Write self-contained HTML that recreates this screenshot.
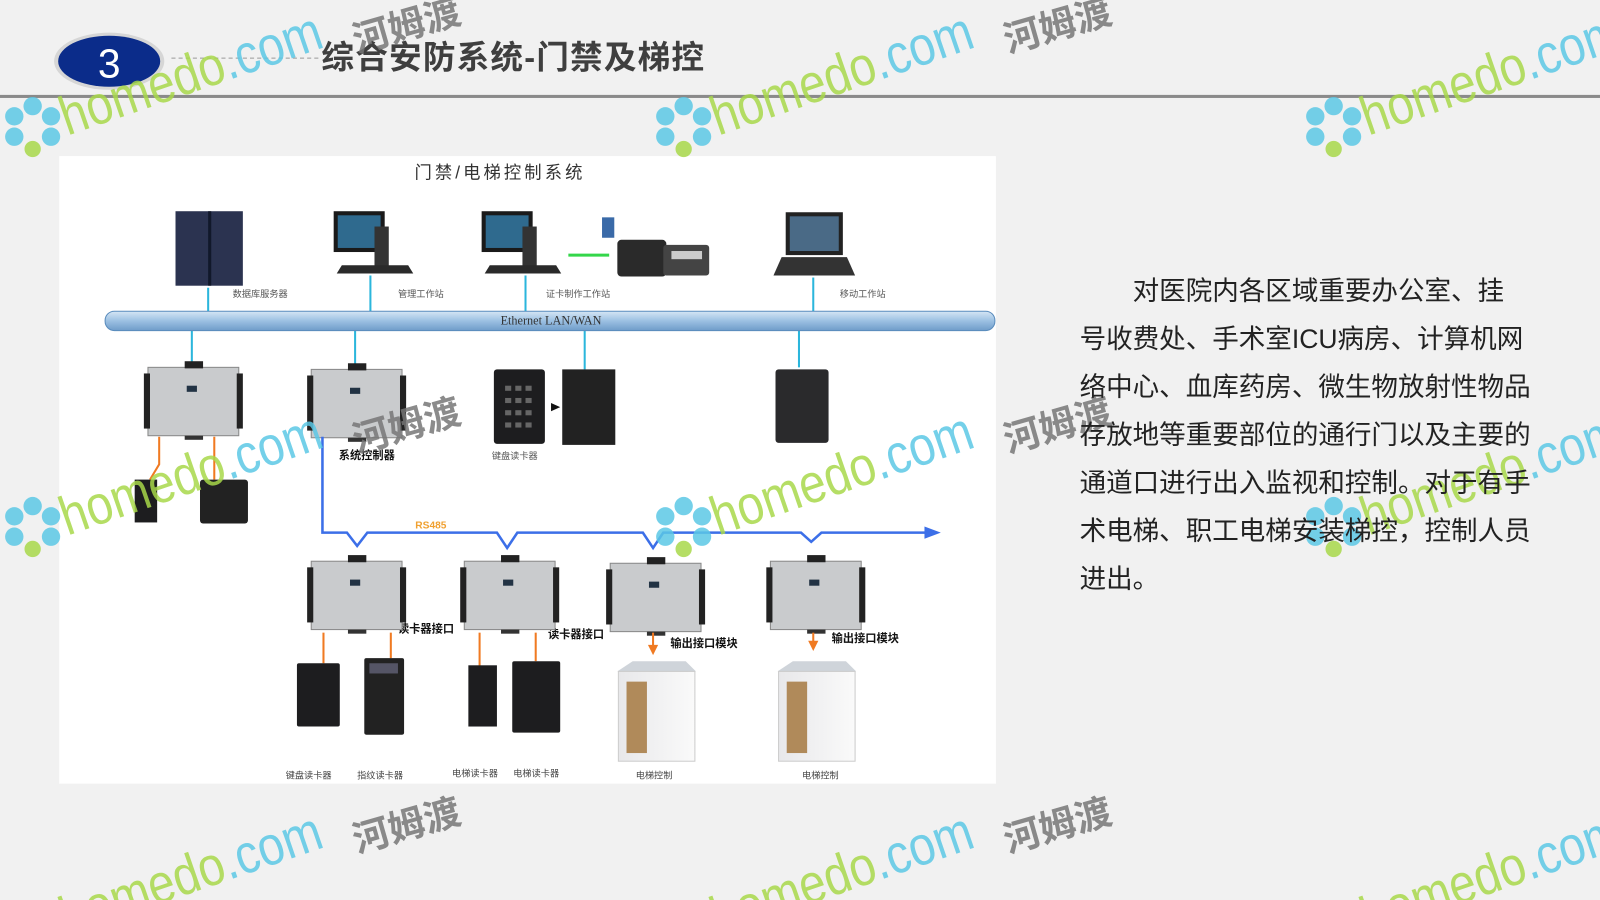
<!DOCTYPE html>
<html><head><meta charset="utf-8">
<style>
html,body{margin:0;padding:0;width:1600px;height:900px;overflow:hidden;background:#f1f1f1;}
#w{position:absolute;left:0;top:0;width:1568px;height:882px;overflow:hidden;transform:scale(1.0204);transform-origin:0 0;font-family:"Liberation Sans","Noto Sans CJK SC",sans-serif;}
.t{position:absolute;left:1058px;top:262px;font-size:26px;line-height:47px;color:#222;white-space:nowrap;}
</style></head><body><div id="w">
<svg width="1568" height="882" viewBox="0 0 1568 882" style="position:absolute;left:0;top:0;overflow:hidden">
<defs>
<linearGradient id="bar" x1="0" y1="0" x2="0" y2="1"><stop offset="0" stop-color="#d6e6f5"/><stop offset=".5" stop-color="#9cc0e2"/><stop offset="1" stop-color="#6f9cc9"/></linearGradient>
<linearGradient id="el" x1="0" y1="0" x2="1" y2="0"><stop offset="0" stop-color="#e8e8ea"/><stop offset="1" stop-color="#fafafa"/></linearGradient>
<g id="ctl">
<rect x="-2" y="0" width="89" height="67" fill="#c9cbcd" stroke="#888" stroke-width="1"/>
<rect x="-6" y="6" width="6" height="54" fill="#222"/><rect x="85" y="6" width="6" height="54" fill="#222"/>
<rect x="34" y="-6" width="18" height="7" fill="#222"/>
<rect x="36" y="18" width="10" height="6" fill="#234"/>
<rect x="34" y="67" width="18" height="4" fill="#333"/>
</g>
<g id="fl" fill="#5bc8e6"><circle cx="32" cy="104" r="9"/><circle cx="50" cy="114" r="9"/><circle cx="50" cy="134" r="9"/><circle cx="14" cy="114" r="9"/><circle cx="14" cy="134" r="9"/><circle cx="32" cy="146" r="8" fill="#a8d84a"/></g>
<g id="wm"><text x="66" y="133" font-size="54" fill="#a8d84a" textLength="268" lengthAdjust="spacingAndGlyphs" transform="rotate(-19 66 133)">homedo<tspan fill="#5bc8e6">.com</tspan></text></g>
<g id="hm"><text x="350" y="52" font-size="36" font-weight="bold" fill="#777" transform="rotate(-16 350 52)">河姆渡</text></g>
</defs>
<!-- header -->
<ellipse cx="107" cy="60" rx="54" ry="28" fill="#bbb" opacity=".5"/>
<ellipse cx="107" cy="60" rx="50" ry="25" fill="#0b2c8a"/>
<text x="107" y="76" font-size="40" fill="#fff" text-anchor="middle" font-family="Liberation Sans,sans-serif">3</text>
<line x1="168" y1="57" x2="312" y2="57" stroke="#999" stroke-dasharray="4,3"/>
<text x="315" y="67" font-size="32" font-weight="bold" fill="#3f3f3f" textLength="375" font-family="Liberation Sans,Noto Sans CJK SC,sans-serif">综合安防系统-门禁及梯控</text>
<rect x="0" y="93" width="1568" height="3" fill="#8a8a8a"/>
<!-- diagram panel -->
<rect x="58" y="153" width="918" height="615" fill="#fff"/>
<text x="490" y="175" font-size="17" fill="#333" text-anchor="middle" font-family="Liberation Sans,Noto Sans CJK SC,sans-serif" letter-spacing="3">门禁/电梯控制系统</text>
<rect x="172" y="207" width="66" height="73" fill="#2b3350"/><rect x="204" y="207" width="3" height="73" fill="#11182a"/>
<rect x="327" y="207" width="50" height="40" fill="#1a1a1a"/><rect x="331" y="211" width="42" height="32" fill="#2f6a8e"/><rect x="367" y="222" width="14" height="40" fill="#333"/><polygon points="335,260 400,260 405,268 330,268" fill="#2a2a2a"/>
<rect x="472" y="207" width="50" height="40" fill="#1a1a1a"/><rect x="476" y="211" width="42" height="32" fill="#2f6a8e"/><rect x="512" y="222" width="14" height="40" fill="#333"/><polygon points="480,260 545,260 550,268 475,268" fill="#2a2a2a"/>
<line x1="557" y1="250" x2="597" y2="250" stroke="#34d64a" stroke-width="3"/>
<rect x="590" y="213" width="12" height="20" fill="#3a6aa8"/>
<rect x="605" y="235" width="48" height="36" rx="4" fill="#2a2a2a"/><rect x="650" y="240" width="45" height="30" rx="3" fill="#444"/><rect x="658" y="246" width="30" height="8" fill="#ccc"/>
<rect x="770" y="208" width="56" height="42" fill="#222"/><rect x="774" y="212" width="48" height="34" fill="#4a6a86"/><polygon points="766,252 830,252 838,270 758,270" fill="#333"/>
<g font-size="9" fill="#555" font-family="Liberation Sans,Noto Sans CJK SC,sans-serif">
<text x="228" y="291">数据库服务器</text><text x="390" y="291">管理工作站</text><text x="535" y="291">证卡制作工作站</text><text x="823" y="291">移动工作站</text>
</g>
<g stroke="#2bb6dc" stroke-width="2">
<line x1="204" y1="282" x2="204" y2="305"/><line x1="363" y1="270" x2="363" y2="305"/><line x1="515" y1="270" x2="515" y2="305"/><line x1="797" y1="272" x2="797" y2="305"/>
<line x1="188" y1="324" x2="188" y2="356"/><line x1="348" y1="324" x2="348" y2="358"/><line x1="573" y1="324" x2="573" y2="362"/><line x1="783" y1="324" x2="783" y2="360"/>
</g>
<rect x="103" y="305" width="872" height="19" rx="9" fill="url(#bar)" stroke="#5a8cbd"/>
<text x="540" y="318" font-size="12" fill="#333" text-anchor="middle" font-family="Liberation Serif,serif">Ethernet LAN/WAN</text>
<use href="#ctl" x="147" y="360"/><use href="#ctl" x="307" y="362"/>
<rect x="484" y="362" width="50" height="73" rx="3" fill="#1d1d1f"/>
<g fill="#666"><rect x="495" y="378" width="6" height="5"/><rect x="505" y="378" width="6" height="5"/><rect x="515" y="378" width="6" height="5"/><rect x="495" y="390" width="6" height="5"/><rect x="505" y="390" width="6" height="5"/><rect x="515" y="390" width="6" height="5"/><rect x="495" y="402" width="6" height="5"/><rect x="505" y="402" width="6" height="5"/><rect x="515" y="402" width="6" height="5"/><rect x="495" y="414" width="6" height="5"/><rect x="505" y="414" width="6" height="5"/><rect x="515" y="414" width="6" height="5"/></g>
<polygon points="540,395 549,399 540,403" fill="#111"/>
<rect x="551" y="362" width="52" height="74" fill="#222"/>
<rect x="760" y="362" width="52" height="72" rx="3" fill="#2a2a2c"/>
<g stroke="#f07a22" stroke-width="2" fill="none">
<polyline points="156,428 156,455 147,470"/><line x1="210" y1="428" x2="210" y2="470"/>
</g>
<rect x="132" y="470" width="22" height="42" fill="#1d1d1f"/><rect x="196" y="470" width="47" height="43" rx="3" fill="#222"/>
<g font-size="11" font-weight="bold" fill="#111" font-family="Liberation Sans,Noto Sans CJK SC,sans-serif">
<text x="332" y="450">系统控制器</text>
<text x="390" y="620">读卡器接口</text><text x="537" y="625">读卡器接口</text>
<text x="657" y="634">输出接口模块</text><text x="815" y="629">输出接口模块</text>
</g>
<text x="482" y="450" font-size="9" fill="#555" font-family="Liberation Sans,Noto Sans CJK SC,sans-serif">键盘读卡器</text>
<polyline points="316,428 316,522 340,522 350,535 360,522 487,522 497,537 507,522 630,522 640,537 650,522 785,522 795,531 805,522 910,522" fill="none" stroke="#3c6fe8" stroke-width="2.5"/>
<polygon points="906,516 922,522 906,528" fill="#3c6fe8"/>
<text x="407" y="518" font-size="10" font-weight="bold" fill="#f0a030" font-family="Liberation Sans,sans-serif">RS485</text>
<use href="#ctl" x="307" y="550"/><use href="#ctl" x="457" y="550"/><use href="#ctl" x="600" y="552"/><use href="#ctl" x="757" y="550"/>
<g stroke="#f07a22" stroke-width="2">
<line x1="317" y1="620" x2="317" y2="650"/><line x1="383" y1="620" x2="383" y2="645"/><line x1="470" y1="620" x2="470" y2="653"/><line x1="525" y1="620" x2="525" y2="648"/>
<line x1="640" y1="620" x2="640" y2="634"/><line x1="797" y1="620" x2="797" y2="630"/>
</g>
<polygon points="635,632 645,632 640,642" fill="#f07a22"/><polygon points="792,628 802,628 797,638" fill="#f07a22"/>
<rect x="291" y="650" width="42" height="62" rx="2" fill="#1d1d1f"/>
<rect x="357" y="645" width="39" height="75" rx="2" fill="#222"/><rect x="362" y="650" width="28" height="10" fill="#556"/>
<rect x="459" y="652" width="28" height="60" fill="#1d1d1f"/><rect x="502" y="648" width="47" height="70" rx="2" fill="#1d1d1f"/>
<polygon points="605,658 620,648 672,648 682,658" fill="#cfd4da"/><rect x="606" y="658" width="75" height="88" fill="url(#el)" stroke="#ccc"/><rect x="614" y="668" width="20" height="70" fill="#b08a5a"/>
<polygon points="762,658 777,648 829,648 839,658" fill="#cfd4da"/><rect x="763" y="658" width="75" height="88" fill="url(#el)" stroke="#ccc"/><rect x="771" y="668" width="20" height="70" fill="#b08a5a"/>
<g font-size="9" fill="#444" font-family="Liberation Sans,Noto Sans CJK SC,sans-serif">
<text x="280" y="763">键盘读卡器</text><text x="350" y="763">指纹读卡器</text><text x="443" y="761">电梯读卡器</text><text x="503" y="761">电梯读卡器</text><text x="623" y="763">电梯控制</text><text x="786" y="763">电梯控制</text>
</g>
<!-- watermarks -->
<g font-family="Liberation Sans,Noto Sans CJK SC,sans-serif" opacity=".85">
<g><use href="#fl"/><use href="#wm"/><use href="#hm"/></g>
<g transform="translate(638,0)"><use href="#fl"/><use href="#wm"/><use href="#hm"/></g>
<g transform="translate(1275,0)"><use href="#fl"/><use href="#wm"/></g>
<g transform="translate(0,392)"><use href="#fl"/><use href="#wm"/><use href="#hm"/></g>
<g transform="translate(638,392)"><use href="#fl"/><use href="#wm"/><use href="#hm"/></g>
<g transform="translate(1275,392)"><use href="#fl"/><use href="#wm"/></g>
<g transform="translate(0,784)"><use href="#wm"/><use href="#hm"/></g>
<g transform="translate(638,784)"><use href="#wm"/><use href="#hm"/></g>
<g transform="translate(1275,784)"><use href="#wm"/></g>
</g>
</svg>
<div class="t">　　对医院内各区域重要办公室、挂<br>号收费处、手术室ICU病房、计算机网<br>络中心、血库药房、微生物放射性物品<br>存放地等重要部位的通行门以及主要的<br>通道口进行出入监视和控制。对于有手<br>术电梯、职工电梯安装梯控，控制人员<br>进出。</div>
</div></body></html>
